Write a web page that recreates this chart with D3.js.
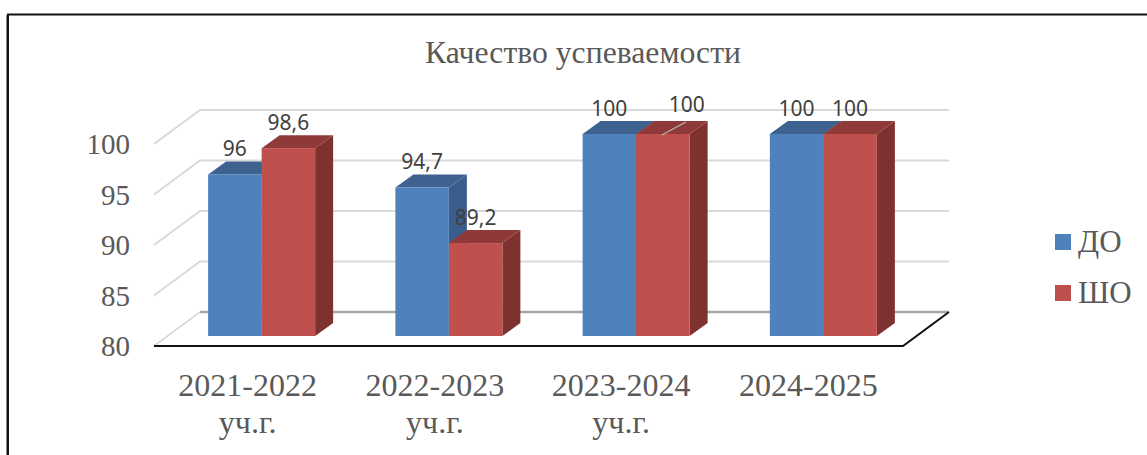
<!DOCTYPE html>
<html><head><meta charset="utf-8">
<script src="https://cdn.jsdelivr.net/npm/d3@7/dist/d3.min.js"></script>
<style>html,body{margin:0;padding:0;background:#fff}svg{display:block}</style>
</head><body><svg id="c" width="1147" height="455"></svg>
<script>
const titleText = "Качество успеваемости";
const categories = ["2021-2022|уч.г.", "2022-2023|уч.г.", "2023-2024|уч.г.", "2024-2025"];
const seriesNames = ["ДО", "ШО"];
const valuesDO = [96, 94.7, 100, 100];
const valuesSHO = [98.6, 89.2, 100, 100];
const yTicks = [80, 85, 90, 95, 100];
const colors = {
  "ДО": {front: "#4f81bd", top: "#3e6290", side: "#3a5d8c"},
  "ШО": {front: "#c0504d", top: "#8f3a38", side: "#7e3230"}
};

const svg = d3.select("#c");
const serif = "'Liberation Serif', serif";
const sans = "'Noto Sans', sans-serif";
const textGrey = "#595959";

// chart geometry
const floorFrontY = 346, depthX = 46, depthY = 34;
const x0 = 154, x1 = 903;
const barLift = 10, barDepthX = 18, barDepthY = 13, barShift = 14;
const y = d3.scaleLinear().domain([80, 100]).range([0, -202]);
const x = d3.scaleBand().domain(categories).range([x0, x1]);
const inner = d3.scaleBand().domain(seriesNames).range([-53.5, 53.5]);
const backY = v => floorFrontY - depthY + y(v);
const frontY = v => floorFrontY + y(v);

// frame
svg.append("path").attr("d", "M8,455V14.5H1147").attr("fill", "none").attr("stroke", "#111").attr("stroke-width", 2);
svg.append("path").attr("d", "M6.5,455V15").attr("fill", "none").attr("stroke", "#888").attr("stroke-width", 1);

// title
svg.append("text").attr("x", 583).attr("y", 63).attr("text-anchor", "middle")
  .attr("font-family", serif).attr("font-size", 31.7).attr("fill", textGrey).text(titleText);

// walls
yTicks.forEach(t => {
  if (t === 80) return;
  svg.append("path")
    .attr("d", `M${x0},${frontY(t)}L${x0 + depthX},${backY(t)}H${x1 + depthX}`)
    .attr("fill", "none").attr("stroke", "#d9d9d9").attr("stroke-width", 2);
});
// floor
svg.append("path").attr("d", `M${x0},${floorFrontY}L${x0 + depthX},${backY(80)}`)
  .attr("fill", "none").attr("stroke", "#d0d0d0").attr("stroke-width", 1.5);
svg.append("path").attr("d", `M${x0 + depthX},${backY(80)}H${x1 + depthX}`)
  .attr("fill", "none").attr("stroke", "#a6a6a6").attr("stroke-width", 2.5);
svg.append("path").attr("d", `M${x0},${floorFrontY}H${x1}L${x1 + depthX},${backY(80)}`)
  .attr("fill", "none").attr("stroke", "#111").attr("stroke-width", 2);

// y tick labels
svg.append("g").selectAll("text").data(yTicks).join("text")
  .attr("x", 130).attr("y", d => frontY(d) + 10)
  .attr("text-anchor", "end").attr("font-family", serif).attr("font-size", 29).attr("fill", textGrey)
  .text(d => d);

// bars
const barBase = floorFrontY - barLift;
const barWidth = inner.bandwidth();
const cx = c => x(c) + x.bandwidth() / 2 + barShift;
const rows = [];
categories.forEach((c, i) => {
  rows.push({c, s: "ДО", v: valuesDO[i]});
  rows.push({c, s: "ШО", v: valuesSHO[i]});
});
const bars = svg.append("g").selectAll("g").data(rows).join("g");
bars.each(function(d) {
  const g = d3.select(this), l = cx(d.c) + inner(d.s), r = l + barWidth;
  const top = barBase + y(d.v), col = colors[d.s];
  g.append("path").attr("fill", col.side)
    .attr("d", `M${r},${barBase}L${r + barDepthX},${barBase - barDepthY}V${top - barDepthY}L${r},${top}Z`);
  g.append("path").attr("fill", col.top)
    .attr("d", `M${l},${top}L${l + barDepthX},${top - barDepthY}H${r + barDepthX}L${r},${top}Z`);
  g.append("rect").attr("x", l).attr("y", top).attr("width", barWidth).attr("height", barBase - top)
    .attr("fill", col.front);
});

// leader line + data labels
const fmt = v => String(v).replace(".", ",");
const moved = rows[5];
moved.dx = 24; moved.dy = -4;
svg.append("line").attr("stroke", "#b5b5b5").attr("stroke-width", 1.3)
  .attr("x1", cx(moved.c) + inner(moved.s) + barWidth / 2 - 1).attr("y1", barBase + y(moved.v) + 1)
  .attr("x2", cx(moved.c) + inner(moved.s) + barWidth / 2 + 23).attr("y2", barBase + y(moved.v) - 12);
svg.append("g").selectAll("text").data(rows).join("text")
  .attr("x", d => cx(d.c) + inner(d.s) + barWidth / 2 + (d.dx || 0))
  .attr("y", d => barBase + y(d.v) - 18.5 + (d.dy || 0))
  .attr("text-anchor", "middle").attr("font-family", sans).attr("font-size", 21).attr("fill", "#404040")
  .text(d => fmt(d.v));

// category labels
categories.forEach((c, k) => {
  const t = svg.append("text").attr("text-anchor", "middle").attr("font-family", serif)
    .attr("font-size", 32).attr("fill", textGrey);
  c.split("|").forEach((line, i) => {
    t.append("tspan").attr("x", x(c) + x.bandwidth() / 2 - (k > 1 ? 1 : 0))
      .attr("y", 396 + i * 37).text(line);
  });
});

// legend
seriesNames.forEach((s, i) => {
  const ly = 234 + i * 51;
  svg.append("rect").attr("x", 1055).attr("y", ly).attr("width", 16).attr("height", 16).attr("fill", colors[s].front);
  svg.append("text").attr("x", 1078).attr("y", ly + 18).attr("font-family", serif).attr("font-size", 31)
    .attr("fill", textGrey).text(s);
});
</script></body></html>
